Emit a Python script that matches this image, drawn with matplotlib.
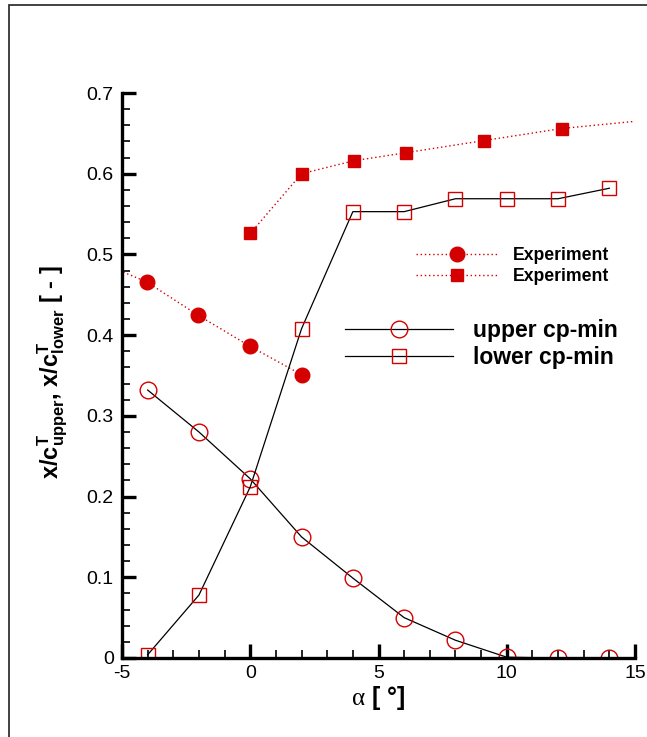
import numpy as np
import matplotlib
matplotlib.use("Agg")
import matplotlib.pyplot as plt
from matplotlib import ticker
from matplotlib.patches import Rectangle

plt.rcParams['font.family'] = ['Liberation Sans', 'DejaVu Sans']
plt.rcParams['axes.unicode_minus'] = False
plt.rcParams['mathtext.fontset'] = 'custom'
plt.rcParams['mathtext.rm'] = 'Liberation Serif'
plt.rcParams['mathtext.bf'] = 'Liberation Sans:bold'
plt.rcParams['mathtext.it'] = 'Liberation Sans:bold'

# --- data ---
alpha_cfd = [-4, -2, 0, 2, 4, 6, 8, 10, 12, 14]
upper_cpmin = [0.332, 0.280, 0.222, 0.150, 0.099, 0.050, 0.022, 0.001, 0.0, 0.0]
lower_cpmin = [0.004, 0.078, 0.212, 0.408, 0.553, 0.553, 0.569, 0.569, 0.569, 0.582]

# experiment (first/last points lie outside the plotted range)
alpha_exp_upper = [-6, -4.04, -2.05, 0.0, 2.0]
exp_upper = [0.492, 0.466, 0.425, 0.386, 0.351]
alpha_exp_lower = [0.0, 2.0, 4.03, 6.06, 9.1, 12.14, 16.0]
exp_lower = [0.526, 0.600, 0.616, 0.626, 0.641, 0.656, 0.668]

RED = '#d40000'
W, H = 647, 737

fig = plt.figure(figsize=(W / 100, H / 100), dpi=100)
ax = fig.add_axes([122 / W, 1 - 658 / H, (635 - 122) / W, (658 - 93) / H])

# outer frame (runs off the right and bottom of the image)
fig.patches.append(Rectangle((9 / W, -0.1), 1.2, 1.1 - 5 / H, transform=fig.transFigure,
                             fill=False, edgecolor='#333333', lw=1.3))

dot = (0, (1, 2))
h_eu, = ax.plot(alpha_exp_upper, exp_upper, color=RED, ls=dot, lw=1.0,
                marker='o', ms=10.5, mfc=RED, mec=RED)
h_el, = ax.plot(alpha_exp_lower, exp_lower, color=RED, ls=dot, lw=1.0,
                marker='s', ms=8.5, mfc=RED, mec=RED)
h_up, = ax.plot(alpha_cfd, upper_cpmin, color='black', lw=0.9,
                marker='o', ms=12, mfc='none', mec=RED, mew=1.0)
h_lo, = ax.plot(alpha_cfd, lower_cpmin, color='black', lw=0.9,
                marker='s', ms=9.5, mfc='none', mec=RED, mew=1.0)

ax.set_xlim(-5, 15)
ax.set_ylim(0, 0.7)
ax.xaxis.set_major_locator(ticker.MultipleLocator(5))
ax.xaxis.set_minor_locator(ticker.MultipleLocator(1))
ax.yaxis.set_major_locator(ticker.MultipleLocator(0.1))
ax.yaxis.set_minor_locator(ticker.MultipleLocator(0.02))
ax.yaxis.set_major_formatter(ticker.FuncFormatter(lambda v, p: '0' if abs(v) < 1e-9 else f'{v:.1f}'))

for s in ['top', 'right']:
    ax.spines[s].set_visible(False)
for s in ['left', 'bottom']:
    ax.spines[s].set_linewidth(2.4)
ax.tick_params(which='major', direction='in', length=10, width=2.4, labelsize=14, pad=6)
ax.tick_params(which='minor', direction='in', length=6, width=1.2)
ax.tick_params(axis='x', which='major', pad=5)

ax.set_xlabel(r'$\mathrm{\alpha}$ [ °]', fontsize=18, fontweight='bold')
ax.xaxis.set_label_coords(0.5, -0.07, transform=ax.transAxes)
ax.xaxis.label.set_va('center')
ax.set_ylabel(r'x/c$^{\mathbf{T}}_{\mathbf{upper}}$, x/c$^{\mathbf{T}}_{\mathbf{lower}}$ [ - ]',
              fontsize=17, fontweight='bold')
ax.yaxis.set_label_coords((70 - 122) / (635 - 122), 0.505)

leg1 = ax.legend([h_eu, h_el], ['Experiment', 'Experiment'], loc='center left',
                 bbox_to_anchor=(416 / W, 1 - 266 / H), bbox_transform=fig.transFigure,
                 frameon=False, handlelength=4.6, handletextpad=0.9, borderpad=0,
                 borderaxespad=0, labelspacing=0.2,
                 prop={'weight': 'bold', 'size': 12.7})
ax.add_artist(leg1)
ax.legend([h_up, h_lo], ['upper cp-min', 'lower cp-min'], loc='center left',
          bbox_to_anchor=(345 / W, 1 - 344 / H), bbox_transform=fig.transFigure,
          frameon=False, handlelength=4.7, handletextpad=0.9, borderpad=0,
          borderaxespad=0, labelspacing=0.2,
          prop={'weight': 'bold', 'size': 16.5})

fig.savefig('out.png', dpi=100)
